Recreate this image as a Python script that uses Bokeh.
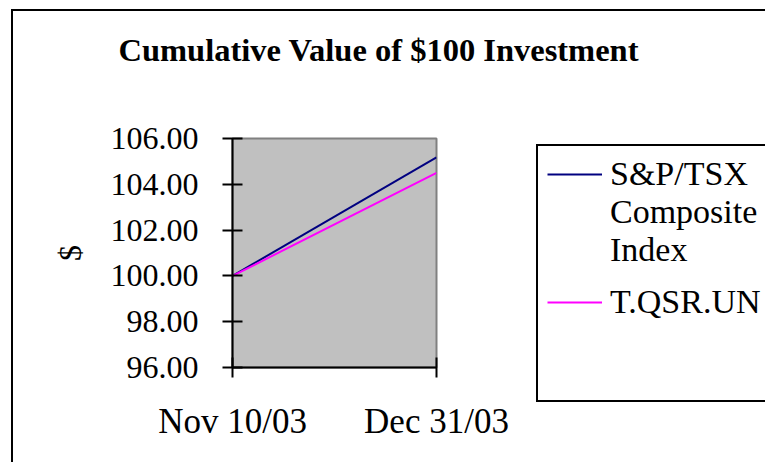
from bokeh.plotting import figure
from bokeh.models import Range1d, FixedTicker, Legend, LegendItem, Title, NumeralTickFormatter
from bokeh.embed import file_html
from bokeh.resources import INLINE

# ---- data ----
dates = ["Nov 10/03", "Dec 31/03"]
sp_tsx = [100.00, 105.18]
qsr = [100.00, 104.50]
y_ticks = [96, 98, 100, 102, 104, 106]
legend_labels = ["S&P/TSX", "Composite", "Index", "", "T.QSR.UN", "", "", "", "", ""]
title_text = "Cumulative Value of $100 Investment"
y_label = "$"

x = list(range(len(dates)))
FONT = "Liberation Serif"

p = figure(frame_width=204, frame_height=229, output_backend="svg", toolbar_location=None,
           x_range=Range1d(0, len(dates) - 1), y_range=Range1d(y_ticks[0], y_ticks[-1]),
           min_border_left=219, min_border_right=329, min_border_top=127, min_border_bottom=95)
# outer chart border: only top and left edges fall inside the window, as in the reference
p.styles = {"border-top": "2px solid black", "border-left": "2px solid black"}
p.margin = (9, 0, 0, 11)
p.background_fill_color = "#C0C0C0"
p.border_fill_color = "white"
p.outline_line_color = "#808080"
p.outline_line_width = 2
p.grid.visible = False

p.title.text = ""
p.add_layout(Title(text=title_text, align="left", offset=-114, standoff=10,
                   padding=dict(left=0, right=0, top=0, bottom=66),
                   text_font=FONT, text_font_size="32.5px", text_font_style="bold",
                   text_color="black"), "above")

r1 = p.line(x, sp_tsx, line_color="#000080", line_width=2)
r2 = p.line(x, qsr, line_color="#FF00FF", line_width=2)
blank = p.line([], [], line_alpha=0)

for ax in (p.xaxis, p.yaxis):
    ax.axis_line_color = "black"
    ax.axis_line_width = 2
    ax.major_tick_line_color = "black"
    ax.major_tick_line_width = 2
    ax.major_tick_in = 10
    ax.major_tick_out = 10
    ax.minor_tick_line_color = None
    ax.major_label_text_font = FONT
    ax.major_label_text_color = "black"

p.xaxis.ticker = FixedTicker(ticks=x)
p.xaxis.major_label_overrides = {i: d for i, d in enumerate(dates)}
p.xaxis.major_label_text_font_size = "35px"
p.xaxis.major_label_standoff = 24

p.yaxis.ticker = FixedTicker(ticks=y_ticks)
p.yaxis.formatter = NumeralTickFormatter(format="0.00")
p.yaxis.major_label_text_font_size = "32px"
p.yaxis.major_label_standoff = 24
p.yaxis.axis_label = y_label
p.yaxis.axis_label_text_font = FONT
p.yaxis.axis_label_text_font_style = "normal"
p.yaxis.axis_label_text_font_size = "32px"
p.yaxis.axis_label_text_color = "black"
p.yaxis.axis_label_standoff = 20

item_renderers = [r1, blank, blank, blank, r2] + [blank] * (len(legend_labels) - 5)
legend = Legend(items=[LegendItem(label=lab, renderers=[r])
                       for lab, r in zip(legend_labels, item_renderers)],
                location=(100, -35),
                border_line_color="black", border_line_width=2, border_line_alpha=1,
                background_fill_color="white", background_fill_alpha=1,
                label_text_font=FONT, label_text_font_size="34px",
                label_text_color="black",
                glyph_width=55, glyph_height=14, label_height=14,
                label_standoff=8, padding=9, spacing=-7)
p.add_layout(legend, "right")

open("out.html", "w").write(file_html(p, INLINE))
